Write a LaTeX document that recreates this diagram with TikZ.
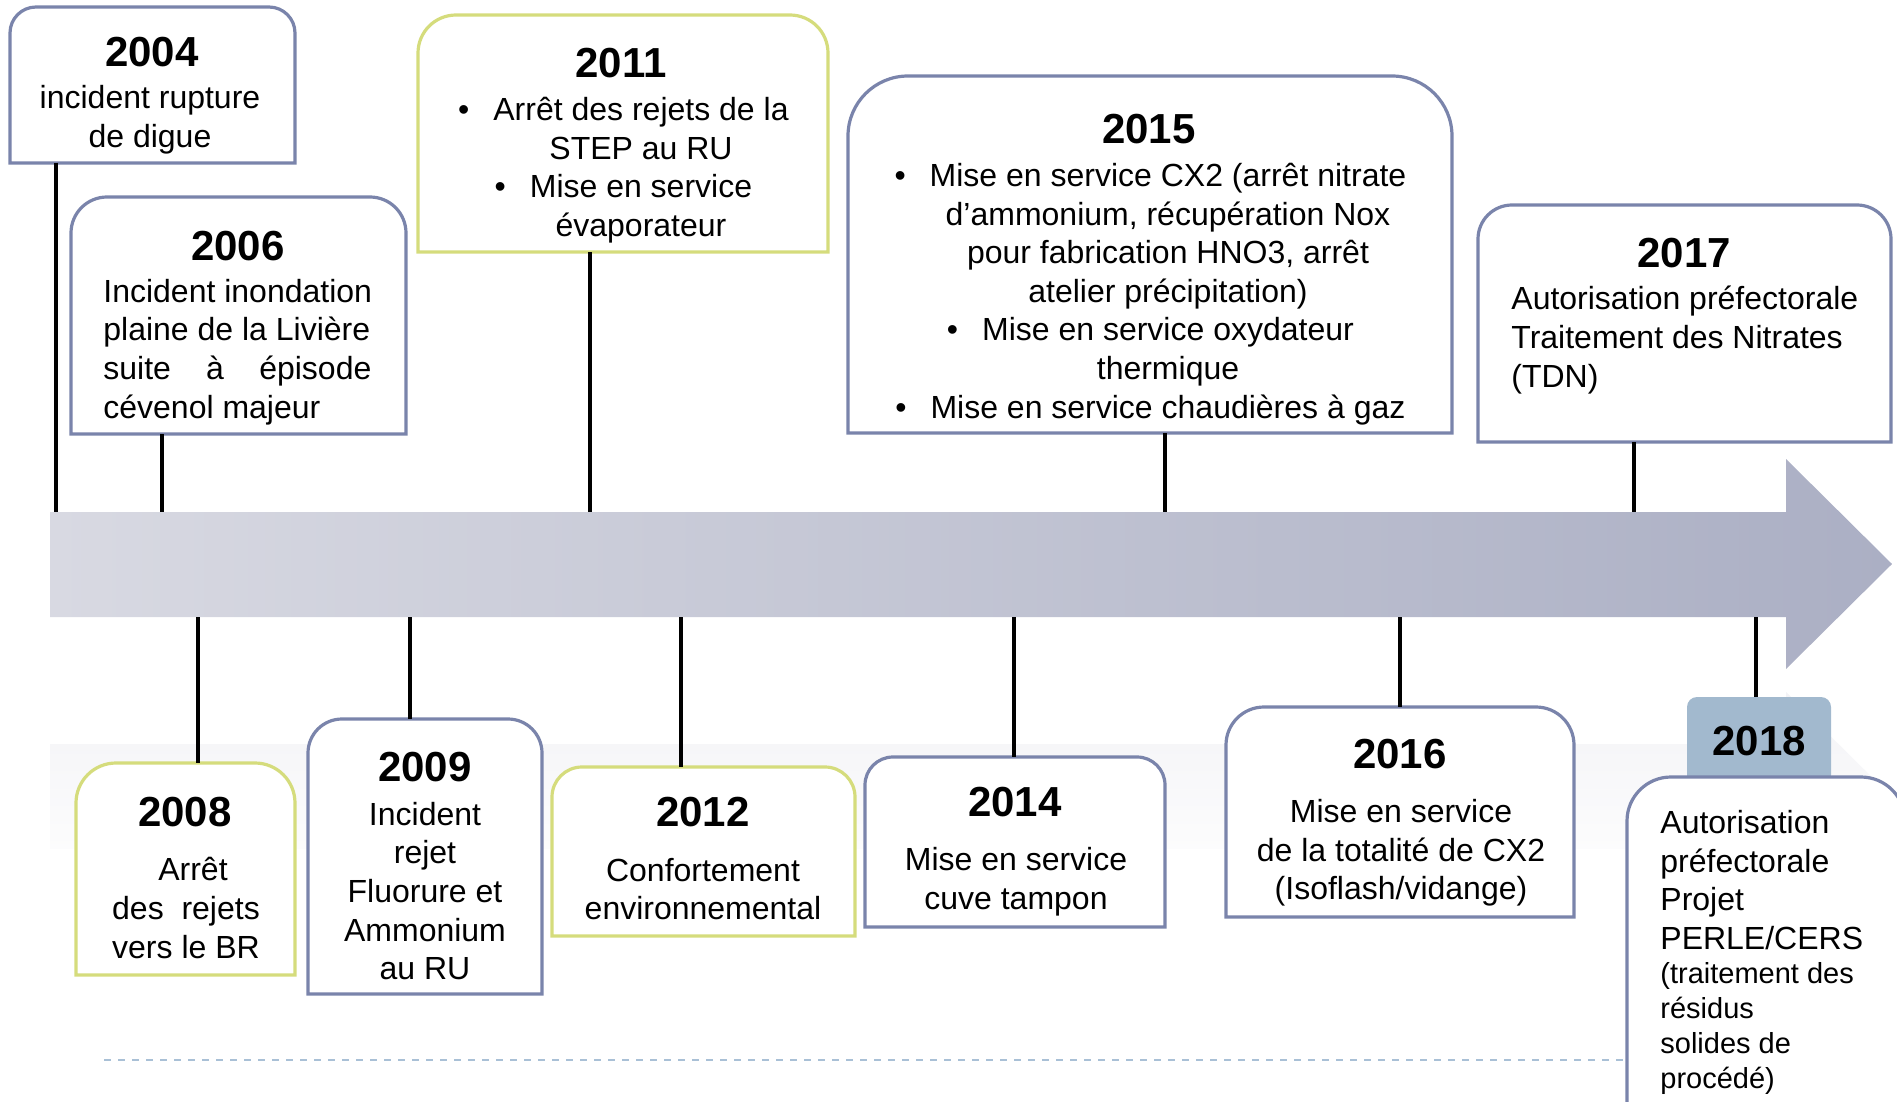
\documentclass[tikz,border=0pt]{standalone}
\usepackage{fontspec}
\setmainfont{Liberation Sans}
\usetikzlibrary{fit}
\definecolor{boxblue}{HTML}{7A84AB}
\definecolor{boxgreen}{HTML}{D5DC7C}
\definecolor{labfill}{HTML}{A2B9CE}
\definecolor{arrowL}{HTML}{D8D9E2}
\definecolor{arrowR}{HTML}{ABAFC4}
\definecolor{dashc}{HTML}{A9C0D6}
\definecolor{reflc}{HTML}{F3F3F6}
\tikzset{
  boxb/.style={fill=white, draw=boxblue, line width=1.6pt},
  boxg/.style={fill=white, draw=boxgreen, line width=1.6pt},
  yrtxt/.style={font=\fontsize{21}{25}\selectfont\bfseries, inner sep=0pt},
  bodytxt/.style={font=\fontsize{16}{19.3}\selectfont, align=center, inner sep=0pt},
  smalltxt/.style={font=\fontsize{14.5}{17.5}\selectfont, align=left, inner sep=0pt},
  conn/.style={draw=black, line width=2.3pt},
}
\newcommand{\tlbox}[7]{%
  \coordinate (#1-a) at (#2,-#3);
  \coordinate (#1-b) at (#4,-#5);
  \node[fit=(#1-a)(#1-b), inner sep=0pt, outer sep=0pt] (#1) {};
  \filldraw[#6] (#1.south west) -- ([yshift=-#7]#1.north west)
    arc[start angle=180,end angle=90,radius=#7]
    -- ([xshift=-#7]#1.north east)
    arc[start angle=90,end angle=0,radius=#7]
    -- (#1.south east) -- cycle;
}
\newcommand{\bul}{\llap{\textbullet\hspace{12pt}}}
\begin{document}
\begin{tikzpicture}[x=0.5pt,y=0.5pt]
\useasboundingbox (0,0) rectangle (1897,-1102);
\clip (0,0) rectangle (1897,-1102);

% reflection of the arrow
\shade[top color=reflc, bottom color=white]
  (50,-744) -- (1786,-744) -- (1786,-692) -- (1892,-797) -- (1786,-902)
  -- (1786,-849) -- (50,-849) -- cycle;

% dashed line
\coordinate (dA) at (104,-1060);
\coordinate (dB) at (1640,-1060);
\draw[dashc, line width=1.2pt, dash pattern=on 3.5pt off 3.5pt] (dA) -- (dB);

% timeline arrow
\coordinate (ax-a) at (50,-512);
\coordinate (ax-b) at (1786,-617);
\node[fit=(ax-a)(ax-b), inner sep=0pt, outer sep=0pt] (axis) {};
\shade[left color=arrowL, right color=arrowR]
  (axis.north west) -- (axis.north east) -- (1786,-459) -- (1892,-564)
  -- (1786,-669) -- (axis.south east) -- (axis.south west) -- cycle;

% top boxes
\tlbox{b04}{10}{7}{295}{163}{boxb}{13pt}
\tlbox{b06}{71}{197}{406}{434}{boxb}{18pt}
\tlbox{b11}{418}{15}{828}{252}{boxg}{19pt}
\tlbox{b15}{848}{76}{1452}{433}{boxb}{30pt}
\tlbox{b17}{1478}{205}{1891}{442}{boxb}{17pt}

% bottom boxes
\tlbox{b08}{76}{763}{295}{975}{boxg}{20pt}
\tlbox{b09}{308}{719}{542}{994}{boxb}{17pt}
\tlbox{b12}{552}{767}{855}{936}{boxg}{15pt}
\tlbox{b14}{865}{757}{1165}{927}{boxb}{14pt}
\tlbox{b16}{1226}{707}{1574}{917}{boxb}{19pt}
\node[fill=labfill, rounded corners=5pt, minimum width=72pt, minimum height=44pt, inner sep=0pt, yrtxt] (l18) at (1759,-741) {2018};
\tlbox{b18}{1627}{777}{1905}{1125}{boxb}{22pt}

% connector x positions
\coordinate (x04) at (56,0);
\coordinate (x06) at (162,0);
\coordinate (x11) at (590,0);
\coordinate (x15) at (1165,0);
\coordinate (x17) at (1634,0);
\coordinate (x08) at (198,0);
\coordinate (x09) at (410,0);
\coordinate (x12) at (681,0);
\coordinate (x14) at (1014,0);
\coordinate (x16) at (1400,0);
\coordinate (x18) at (1756,0);

\draw[conn] (b04.south -| x04) -- (axis.north -| x04);
\draw[conn] (b06.south -| x06) -- (axis.north -| x06);
\draw[conn] (b11.south -| x11) -- (axis.north -| x11);
\draw[conn] (b15.south -| x15) -- (axis.north -| x15);
\draw[conn] (b17.south -| x17) -- (axis.north -| x17);
\draw[conn] (axis.south -| x08) -- (b08.north -| x08);
\draw[conn] (axis.south -| x09) -- (b09.north -| x09);
\draw[conn] (axis.south -| x12) -- (b12.north -| x12);
\draw[conn] (axis.south -| x14) -- (b14.north -| x14);
\draw[conn] (axis.south -| x16) -- (b16.north -| x16);
\draw[conn] (axis.south -| x18) -- (l18.north -| x18);

% texts
\node[yrtxt] (y04) at (152,-52) {2004};
\node[bodytxt] (t04) at (150,-120) {incident rupture\\de digue};

\node[yrtxt] (y06) at (238,-246) {2006};
\node[bodytxt, align=left, anchor=west] (t06) at (103,-352)
  {Incident inondation\\plaine de la Livière\\\makebox[134pt][s]{suite à épisode}\\cévenol majeur};

\node[yrtxt] (y11) at (621,-63) {2011};
\node[bodytxt] (t11) at (641,-170) {\bul Arrêt des rejets de la\\STEP au RU\\\bul Mise en service\\évaporateur};

\node[yrtxt] (y15) at (1149,-129) {2015};
\node[bodytxt] (t15) at (1168,-294)
  {\bul Mise en service CX2 (arrêt nitrate\\d’ammonium, récupération Nox\\pour fabrication HNO3, arrêt\\atelier précipitation)\\\bul Mise en service oxydateur\\thermique\\\bul Mise en service chaudières à gaz};

\node[yrtxt] (y17) at (1684,-253) {2017};
\node[bodytxt, align=left, anchor=west] (t17) at (1511,-340)
  {Autorisation préfectorale\\Traitement des Nitrates\\(TDN)};

\node[yrtxt] (y08) at (185,-812) {2008};
\node[bodytxt] (t08) at (186,-908) {\hspace{7pt}Arrêt\\\makebox[73.8pt][s]{des rejets}\\vers le BR};

\node[yrtxt] (y09) at (425,-767) {2009};
\node[bodytxt] (t09) at (425,-891) {Incident\\rejet\\Fluorure et\\Ammonium\\au RU};

\node[yrtxt] (y12) at (703,-812) {2012};
\node[bodytxt] (t12) at (703,-889) {Confortement\\environnemental};

\node[yrtxt] (y14) at (1015,-802) {2014};
\node[bodytxt] (t14) at (1016,-882) {Mise en service\\cuve tampon};

\node[yrtxt] (y16) at (1400,-754) {2016};
\node[bodytxt] (t16) at (1401,-853) {Mise en service\\de la totalité de CX2\\(Isoflash/vidange)};

\node[bodytxt, align=left, anchor=west] (t18a) at (1660,-880) {Autorisation\\préfectorale\\Projet\\PERLE/CERS};
\node[smalltxt, anchor=west] (t18b) at (1660,-1028) {(traitement des\\résidus\\solides de\\procédé)};
\end{tikzpicture}
\end{document}
